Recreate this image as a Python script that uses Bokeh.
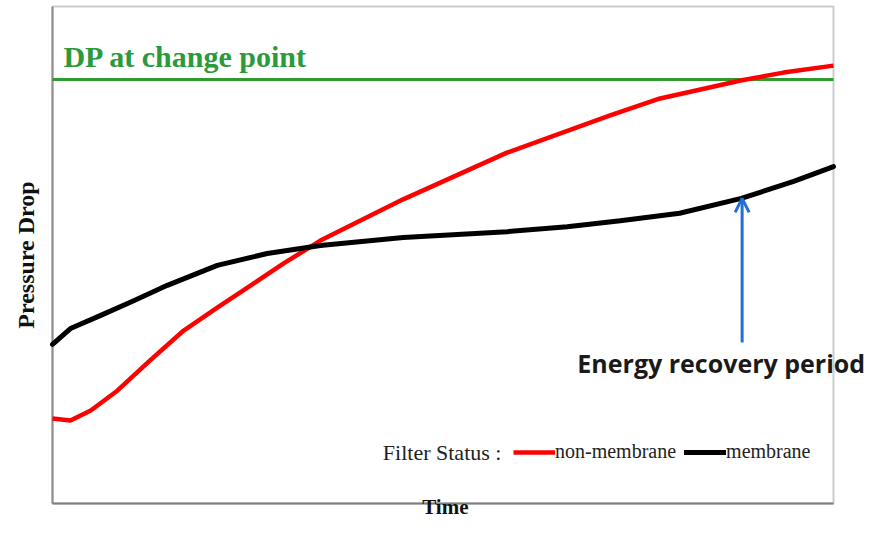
import math
from bokeh.plotting import figure
from bokeh.models import Label, Arrow, OpenHead, Legend, LegendItem, Range1d
from bokeh.embed import file_html
from bokeh.resources import INLINE

# Axis limits of the plotted box (relative units)
t_min, t_max = 0, 100
dp_min, dp_max = 0, 100

# Data (time in % of cycle, pressure drop in relative units)
time_red = [0, 2.3, 4.9, 8.3, 12.5, 16.8, 21.1, 25.4, 29.6, 34.3, 44.9, 58.2, 71.4, 77.8, 84.7, 88.1, 93.6, 100]
dp_red = [17.1, 16.7, 18.7, 22.7, 28.8, 34.8, 39.4, 43.9, 48.3, 52.9, 61.2, 70.6, 78.1, 81.5, 83.9, 85.1, 86.7, 88.1]
time_black = [0, 2.3, 6.1, 10.4, 14.7, 21.1, 27.5, 34.3, 44.9, 58.2, 65.9, 72.7, 80.3, 88.2, 94.9, 100]
dp_black = [32.0, 35.2, 37.8, 40.8, 43.9, 47.9, 50.3, 51.9, 53.5, 54.7, 55.7, 56.9, 58.4, 61.4, 64.8, 67.8]
dp_change_point = 85.3
arrow_time = 88.3
arrow_from = 32.4
arrow_to = 61.4

W, H = 864, 520
px_x = 7.81   # pixels per time unit
px_y = 4.97   # pixels per dp unit
left_px, top_px = 52, 6
x0 = t_min - left_px / px_x
x1 = x0 + W / px_x
y1 = dp_max + top_px / px_y
y0 = y1 - H / px_y

p = figure(width=W, height=H, output_backend="svg", toolbar_location=None,
           x_range=Range1d(x0, x1), y_range=Range1d(y0, y1),
           min_border=0, x_axis_type=None, y_axis_type=None)
p.grid.visible = False
p.outline_line_color = None
p.background_fill_color = "white"
p.border_fill_color = "white"

# box frame
p.quad(left=t_min, right=t_max, bottom=dp_min, top=dp_max, fill_color=None,
       line_color="#cccccc", line_width=2)
p.segment(x0=[t_min, t_min], y0=[dp_min, dp_min], x1=[t_min, t_max], y1=[dp_max, dp_min],
          line_color=["#8c8c8c", "#7d7d7d"], line_width=2)

# green change-point line
p.line([t_min, t_max], [dp_change_point, dp_change_point], line_color="#2f9a2f", line_width=3)

r_red = p.line(time_red, dp_red, line_color="#ff0000", line_width=4.5, line_join="round")
r_black = p.line(time_black, dp_black, line_color="#000000", line_width=5, line_join="round",
                 line_cap="round")

p.add_layout(Label(x=1.4, y=86.7, text="DP at change point",
                   text_font="Liberation Serif", text_font_style="bold",
                   text_font_size="30px", text_color="#2a9a3a"))

p.add_layout(Arrow(end=OpenHead(line_color="#1f6fd6", line_width=3, size=14),
                   x_start=arrow_time, y_start=arrow_from, x_end=arrow_time, y_end=arrow_to,
                   line_color="#1f6fd6", line_width=3))

p.add_layout(Label(x=67.2, y=24.9, text="Energy recovery period",
                   text_font="Open Sans", text_font_style="bold",
                   text_font_size="25px", text_color="#1a1a1a"))

# axis titles
p.add_layout(Label(x=(25 - left_px) / px_x, y=(dp_min + dp_max) / 2, text="Pressure Drop",
                   angle=math.pi / 2, text_align="center", text_baseline="middle",
                   text_font="Liberation Serif", text_font_style="bold",
                   text_font_size="24px", text_color="#111111"))
p.add_layout(Label(x=50.3, y=-3.2, text="Time", text_align="center",
                   text_font="Liberation Serif", text_font_style="bold",
                   text_font_size="21px", text_color="#111111"))

p.add_layout(Label(x=42.3, y=10.3, text="Filter Status :",
                   text_font="Liberation Serif", text_font_size="22px",
                   text_color="#222222", text_baseline="middle"))

legend = Legend(items=[LegendItem(label="non-membrane", renderers=[r_red]),
                       LegendItem(label="membrane", renderers=[r_black])],
                orientation="horizontal", location=(513, 57),
                border_line_color=None, background_fill_alpha=0,
                padding=0, margin=0, spacing=8, glyph_width=42, label_standoff=0,
                label_text_font="Liberation Serif", label_text_font_size="20px",
                label_text_color="#222222")
p.add_layout(legend, "center")

open("out.html", "w").write(file_html(p, INLINE))
